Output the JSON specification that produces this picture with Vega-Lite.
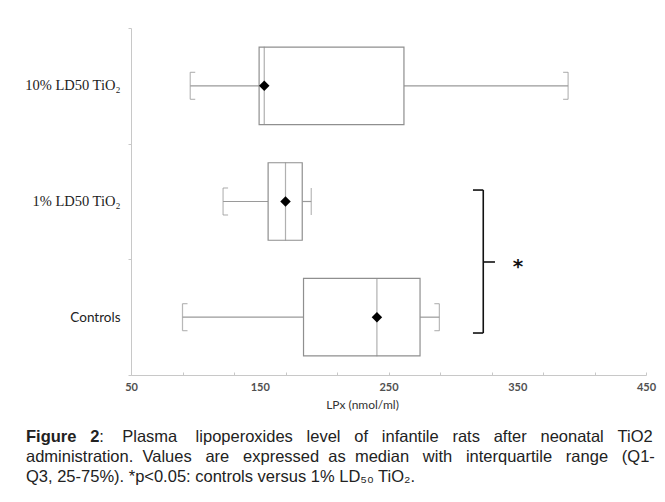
{
  "$schema": "https://vega.github.io/schema/vega-lite/v6.json",
  "width": 515,
  "height": 347,
  "autosize": {"type": "none"},
  "padding": {"left": 131, "top": 28, "right": 19, "bottom": 127},
  "background": "white",
  "config": {"view": {"stroke": null}, "axis": {"labelOverlap": false, "labelBound": false}},
  "title": {
    "text": "Figure \u00a0\u00a02",
    "subtitle": [
      "\u200b\u00a0\u00a0\u00a0\u00a0\u00a0\u00a0\u00a0\u00a0\u00a0\u00a0\u00a0\u00a0\u00a0\u00a0\u00a0\u00a0: \u00a0\u00a0\u00a0Plasma \u00a0\u00a0\u00a0lipoperoxides \u00a0\u00a0level \u00a0\u00a0of \u00a0\u00a0infantile \u00a0\u00a0rats \u00a0\u00a0after \u00a0\u00a0neonatal \u00a0\u00a0TiO2",
      "administration. \u00a0Values \u00a0\u00a0are \u00a0\u00a0expressed \u00a0as \u00a0median \u00a0\u00a0with \u00a0\u00a0interquartile \u00a0\u00a0range \u00a0\u00a0(Q1-",
      "Q3, 25-75%). *p<0.05: controls versus 1% LD\u2085\u2080 TiO\u2082."
    ],
    "orient": "bottom",
    "anchor": "start",
    "frame": "group",
    "dx": -105,
    "offset": 19,
    "font": "Liberation Sans",
    "fontSize": 16.5,
    "fontWeight": "bold",
    "color": "#222222",
    "subtitleFont": "Liberation Sans",
    "subtitleFontSize": 16.5,
    "subtitleColor": "#222222",
    "subtitleLineHeight": 20,
    "subtitlePadding": -16.5
  },
  "layer": [
    {
      "data": {
        "values": [
          {"group": "10% LD50 TiO\u2082", "min": 96, "q1": 149.5, "median": 153.5, "q3": 262, "max": 389.5},
          {"group": "1% LD50 TiO\u2082", "min": 121.5, "q1": 156.5, "median": 170, "q3": 183, "max": 190},
          {"group": "Controls", "min": 90, "q1": 184, "median": 241, "q3": 274.5, "max": 289.5}
        ]
      },
      "encoding": {
        "y": {
          "field": "group",
          "type": "nominal",
          "scale": {"domain": ["10% LD50 TiO\u2082", "1% LD50 TiO\u2082", "Controls"], "paddingInner": 0, "paddingOuter": 0},
          "axis": {
            "title": null,
            "tickBand": "extent",
            "domainColor": "#c8c8c8",
            "tickColor": "#c8c8c8",
            "tickSize": 3,
            "labelPadding": 8,
            "labelColor": "#222222",
            "labelFont": {"condition": {"test": "datum.value === 'Controls'", "value": "Lato"}, "value": "Liberation Serif"},
            "labelFontSize": {"condition": {"test": "datum.value === 'Controls'", "value": 13.5}, "value": 14.5}
          }
        }
      },
      "layer": [
        {
          "mark": {"type": "rule", "color": "#9a9a9a", "strokeWidth": 1.2},
          "encoding": {
            "x": {
              "field": "min",
              "type": "quantitative",
              "scale": {"domain": [50, 450], "nice": false, "zero": false},
              "axis": {
                "orient": "bottom",
                "title": "LPx (nmol/ml)",
                "values": [50, 70, 90, 110, 130, 150, 170, 190, 210, 230, 250, 270, 290, 310, 330, 350, 370, 390, 410, 430, 450],
                "labels": false,
                "grid": false,
                "domainColor": "#c8c8c8",
                "tickColor": "#c8c8c8",
                "tickSize": -3,
                "titleFont": "Lato",
                "titleFontWeight": "normal",
                "titleFontSize": 12,
                "titleColor": "#333333",
                "titleX": 231,
                "titleY": 29,
                "titleBaseline": "middle",
                "titleAlign": "center"
              }
            },
            "x2": {"field": "q1"}
          }
        },
        {
          "mark": {"type": "rule", "color": "#9a9a9a", "strokeWidth": 1.2},
          "encoding": {"x": {"field": "q3", "type": "quantitative"}, "x2": {"field": "max"}}
        },
        {
          "mark": {"type": "bar", "fill": "white", "stroke": "#8f8f8f", "strokeWidth": 1.2, "height": {"band": 0.67}},
          "encoding": {"x": {"field": "q1", "type": "quantitative"}, "x2": {"field": "q3"}}
        },
        {
          "mark": {"type": "tick", "orient": "vertical", "color": "#8f8f8f", "thickness": 1.2, "size": 78},
          "encoding": {"x": {"field": "median", "type": "quantitative"}}
        },
        {
          "mark": {"type": "tick", "orient": "vertical", "color": "#9a9a9a", "thickness": 1.2, "size": 27},
          "encoding": {"x": {"field": "min", "type": "quantitative"}}
        },
        {
          "mark": {"type": "tick", "orient": "vertical", "color": "#9a9a9a", "thickness": 1.2, "size": 27},
          "encoding": {"x": {"field": "max", "type": "quantitative"}}
        },
        {
          "mark": {"type": "tick", "orient": "horizontal", "color": "#9a9a9a", "thickness": 1.2, "size": 5, "xOffset": 2.5, "yOffset": -13.5},
          "encoding": {"x": {"field": "min", "type": "quantitative"}}
        },
        {
          "mark": {"type": "tick", "orient": "horizontal", "color": "#9a9a9a", "thickness": 1.2, "size": 5, "xOffset": 2.5, "yOffset": 13.5},
          "encoding": {"x": {"field": "min", "type": "quantitative"}}
        },
        {
          "transform": [{"filter": "datum.group !== '1% LD50 TiO\u2082'"}],
          "mark": {"type": "tick", "orient": "horizontal", "color": "#9a9a9a", "thickness": 1.2, "size": 5, "xOffset": -2.5, "yOffset": -13.5},
          "encoding": {"x": {"field": "max", "type": "quantitative"}}
        },
        {
          "transform": [{"filter": "datum.group !== '1% LD50 TiO\u2082'"}],
          "mark": {"type": "tick", "orient": "horizontal", "color": "#9a9a9a", "thickness": 1.2, "size": 5, "xOffset": -2.5, "yOffset": 13.5},
          "encoding": {"x": {"field": "max", "type": "quantitative"}}
        },
        {
          "mark": {"type": "point", "shape": "diamond", "filled": true, "color": "black", "opacity": 1, "size": 110},
          "encoding": {"x": {"field": "median", "type": "quantitative"}}
        }
      ]
    },
    {
      "data": {
        "values": [
          {"x": 323.6, "x2": 323.6, "y": 0.363, "y2": 1.599},
          {"x": 315.6, "x2": 323.6, "y": 1.599, "y2": 1.599},
          {"x": 315.6, "x2": 323.6, "y": 0.363, "y2": 0.363},
          {"x": 323.6, "x2": 332.7, "y": 0.977, "y2": 0.977}
        ]
      },
      "mark": {"type": "rule", "color": "#111111", "strokeWidth": 1.6},
      "encoding": {
        "x": {
          "field": "x",
          "type": "quantitative",
          "axis": {
            "orient": "bottom",
            "title": null,
            "values": [50, 150, 250, 350, 450],
            "domain": false,
            "ticks": false,
            "grid": false,
            "labelOverlap": false,
            "labelBound": false,
            "labelFlush": false,
            "labelPadding": 6,
            "labelFont": "Lato",
            "labelFontWeight": "bold",
            "labelFontSize": 11,
            "labelColor": "#505050",
            "zindex": 2
          }
        },
        "x2": {"field": "x2"},
        "y": {"field": "y", "type": "quantitative", "scale": {"domain": [0, 3], "nice": false, "zero": false}, "axis": null},
        "y2": {"field": "y2"}
      }
    },
    {
      "data": {"values": [{"x": 350.6, "y": 0.977, "label": "*"}]},
      "mark": {"type": "text", "font": "DejaVu Sans", "fontWeight": "bold", "fontSize": 20, "color": "#111111", "baseline": "alphabetic", "dy": 11},
      "encoding": {
        "x": {"field": "x", "type": "quantitative", "axis": null},
        "y": {"field": "y", "type": "quantitative", "scale": {"domain": [0, 3], "nice": false, "zero": false}, "axis": null},
        "text": {"field": "label"}
      }
    }
  ],
  "resolve": {"scale": {"y": "independent"}, "axis": {"x": "independent"}}
}
